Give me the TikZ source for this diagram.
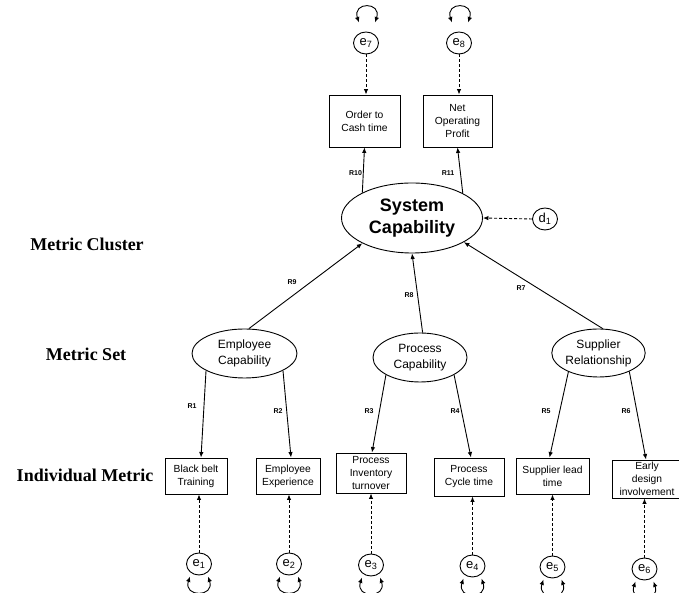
\documentclass[tikz,border=0pt]{standalone}
\usepackage{fontspec}
\setmainfont{Liberation Serif}
\setsansfont{Liberation Sans}
\usetikzlibrary{arrows.meta,shapes.geometric}

\begin{document}
\begin{tikzpicture}[x=1pt,y=1pt,font=\sffamily,line width=0.9pt,
  >={Latex[length=5.5pt,width=4.5pt]},
  metric/.style={draw,rectangle,inner sep=0pt,align=center,minimum height=36,
    font=\sffamily\fontsize{10.3}{13}\selectfont},
  latent/.style={draw,ellipse,inner sep=0pt,align=center,
    font=\sffamily\fontsize{12}{16}\selectfont},
  err/.style={draw,ellipse,inner sep=0pt,minimum width=25,minimum height=22,
    font=\sffamily\fontsize{13}{14}\selectfont},
  lbl/.style={font=\sffamily\bfseries\fontsize{7}{8}\selectfont},
  level/.style={font=\rmfamily\bfseries\fontsize{18}{20}\selectfont},
  errarrow/.style={->,dash pattern=on 3pt off 2pt}]

\useasboundingbox (0,0) rectangle (679,593);

% levels on the left
\node[level] (cluster) at (87,349) {Metric Cluster};
\node[level] (set) at (86,239) {Metric Set};
\node[level] (indiv) at (85,118) {Individual Metric};

% metric cluster
\node[latent,minimum width=141,minimum height=70,
  font=\sffamily\bfseries\fontsize{18}{22}\selectfont] (sys) at (412,375) {System\\Capability};
\node[err] (d1) at (545,374) {d\textsubscript{1}};
\node[metric,minimum width=71,minimum height=52] (oct) at (364.5,472) {Order to\\Cash time};
\node[metric,minimum width=69,minimum height=52] (nop) at (457.5,472) {Net\\Operating\\Profit};
\node[err] (e7) at (366,550) {e\textsubscript{7}};
\node[err] (e8) at (459,550) {e\textsubscript{8}};

% metric sets
\node[latent,minimum width=105,minimum height=49] (emp) at (244.5,239.5) {Employee\\Capability};
\node[latent,minimum width=94,minimum height=49] (proc) at (420,235.5) {Process\\Capability};
\node[latent,minimum width=91,minimum height=48] (sup) at (598.5,240) {Supplier\\Relationship};

% individual metrics
\node[metric,minimum width=62] (b1) at (196,117) {Black belt\\Training};
\node[metric,minimum width=64] (b2) at (288,117) {Employee\\Experience};
\node[metric,minimum width=70,minimum height=40] (b3) at (371,120) {Process\\Inventory\\turnover};
\node[metric,minimum width=70,minimum height=38] (b4) at (469,116) {Process\\Cycle time};
\node[metric,minimum width=73] (b5) at (552.5,117) {Supplier lead\\time};
\node[metric,minimum width=70,minimum height=38] (b6) at (647,114) {Early\\design\\involvement};

\node[err] (e1) at (199,29) {e\textsubscript{1}};
\node[err] (e2) at (289,29) {e\textsubscript{2}};
\node[err] (e3) at (371,28) {e\textsubscript{3}};
\node[err] (e4) at (472.5,27) {e\textsubscript{4}};
\node[err] (e5) at (552.5,26) {e\textsubscript{5}};
\node[err] (e6) at (644.5,24) {e\textsubscript{6}};

% structural paths
\draw[->] (sys.153) -- (oct.south);
\draw[->] (sys.26) -- (nop.south);
\draw[->] (emp.80) -- (sys.207);
\draw[->] (proc.84) -- (sys.south);
\draw[->] (sup.80) -- (sys.335);

\draw[->] (emp.204) -- ([xshift=5]b1.north);
\draw[->] (emp.336) -- ([xshift=3]b2.north);
\draw[->] (proc.207) -- ([xshift=1]b3.north);
\draw[->] (proc.333) -- ([xshift=2]b4.north);
\draw[->] (sup.212) -- ([xshift=-3]b5.north);
\draw[->] (sup.329) -- ([xshift=-1]b6.north);

\node[lbl] (r10) at (355.5,419.5) {R10};
\node[lbl] (r11) at (448,419.5) {R11};
\node[lbl] (r9) at (292,311) {R9};
\node[lbl] (r8) at (409,298) {R8};
\node[lbl] (r7) at (521,305) {R7};
\node[lbl] (r1) at (192,187) {R1};
\node[lbl] (r2) at (278,182) {R2};
\node[lbl] (r3) at (369,182) {R3};
\node[lbl] (r4) at (455,182) {R4};
\node[lbl] (r5) at (546,182) {R5};
\node[lbl] (r6) at (626,182) {R6};

% error terms
\draw[errarrow] (d1.west) -- (sys.east);

\foreach \e/\m in {e7/oct,e8/nop}{
\draw[errarrow] (\e.south) -- (\e.south |- \m.north);
\draw[<->] ([xshift=-7,yshift=9]\e.north) .. controls +(-7,21) and +(7,21) .. ([xshift=9,yshift=9]\e.north);
}

\foreach \e/\m in {e1/b1,e2/b2,e3/b3,e4/b4,e5/b5,e6/b6}{
\draw[errarrow] (\e.north) -- (\e.north |- \m.south);
\draw[<->] ([xshift=-9,yshift=-1]\e.south) .. controls +(-7,-21) and +(7,-21) .. ([xshift=9,yshift=-1]\e.south);
}

\end{tikzpicture}
\end{document}
